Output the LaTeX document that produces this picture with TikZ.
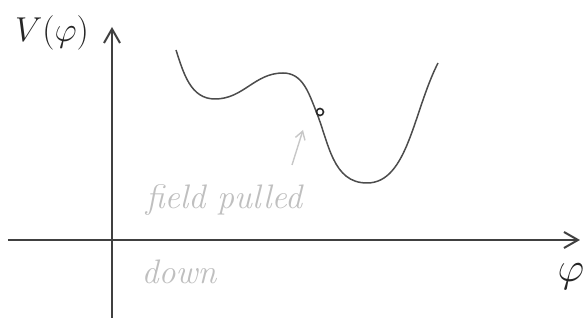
\documentclass[tikz,border=0pt]{standalone}
\usepackage{tikz}
\usetikzlibrary{positioning,arrows.meta}

\begin{document}
\begin{tikzpicture}[
		x=0.5pt, y=0.5pt,
		axis/.style={draw=black!75, line width=1pt, -{Straight Barb[length=7pt, width=8pt]}},
		curve/.style={draw=black!70, line width=0.75pt},
		note/.style={text=black!25, font=\fontsize{17}{20}\selectfont\itshape},
		hint/.style={draw=black!22, line width=0.7pt, -{Straight Barb[length=4pt, width=5pt]}},
		lbl/.style={text=black!85}
		]
		\useasboundingbox (0,0) rectangle (586,321);
		
		% axes
		\coordinate (ybot) at (112,3);
		\coordinate (ytop) at (112,294);
		\coordinate (xleft) at (8,81);
		\coordinate (xright) at (580,81);
		\draw[axis] (ybot) -- (ytop);
		\draw[axis] (xleft) -- (xright);
		\node[lbl, font=\fontsize{19}{22}\selectfont] (vlabel) at (52,288) {$V(\varphi)$};
		\node[lbl, font=\fontsize{22}{26}\selectfont] (philabel) at (571,44) {$\varphi$};
		
		% potential
		\coordinate (start) at (176,271);
		\coordinate (min1) at (215,222);
		\coordinate (max1) at (283,248);
		\coordinate (infl) at (316,210);
		\coordinate (min2) at (367,138);
		\coordinate (end) at (438,258);
		\draw[curve] (start) to[out=-72, in=180] (min1)
			to[out=0, in=180] (max1)
			to[out=0, in=112] (infl)
			to[out=-68, in=180] (min2)
			to[out=0, in=-117, out looseness=0.75] (end);
		\node[draw=black!85, circle, line width=0.8pt, inner sep=0pt, minimum size=3.5pt] (ball) at (320,209) {};
		
		% annotation
		\node[note] (pulledtxt) at (224,121) {field pulled};
		\node[note] (downtxt) at (179,49) {down};
		\coordinate (tail) at (292,156);
		\coordinate (tip) at (303,191);
		\draw[hint] (tail) -- (tip);
	\end{tikzpicture}
\end{document}
